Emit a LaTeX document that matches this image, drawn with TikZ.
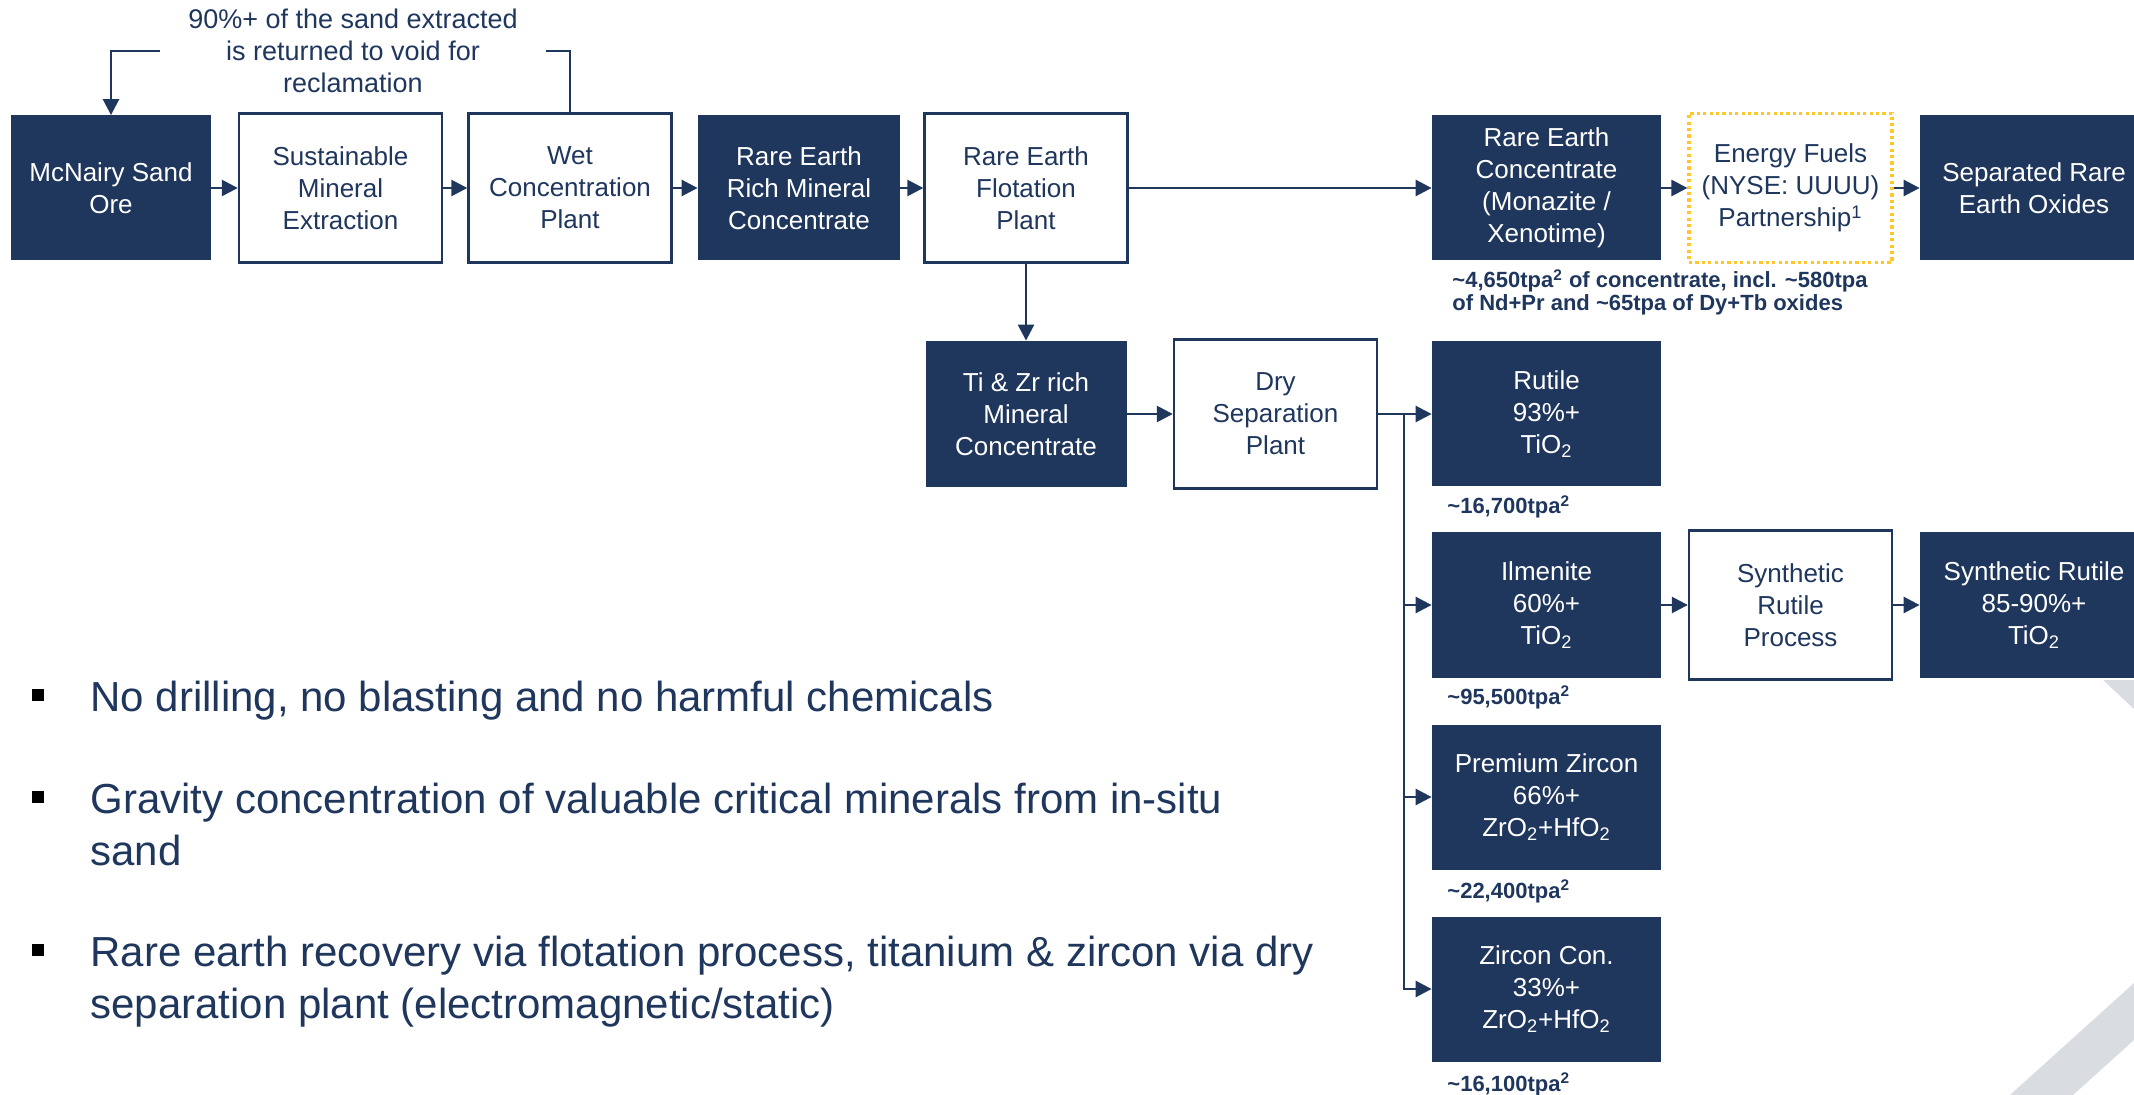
\documentclass[tikz,border=0pt]{standalone}
\usepackage{fontspec}
\setmainfont{Liberation Sans}
\usetikzlibrary{arrows.meta}
\definecolor{navy}{RGB}{31,54,93}
\definecolor{gold}{RGB}{255,199,44}
\definecolor{greyband}{RGB}{217,220,225}
\begin{document}
\begin{tikzpicture}[x=0.5pt,y=-0.5pt,
  base/.style={inner sep=0pt, align=center, font=\fontsize{13}{16}\selectfont},
  dark/.style={base, fill=navy, text=white, minimum height=72.5pt},
  light/.style={base, draw=navy, line width=1.2pt, fill=white, text=navy, minimum height=74.5pt, minimum width=101.5pt},
  dotbox/.style={base, draw=gold, line width=1.6pt, dash pattern=on 1.6pt off 1.6pt, fill=white, text=navy, minimum height=74.5pt, minimum width=101.5pt},
  arr/.style={draw=navy, line width=1.3pt, -{Triangle[length=8pt,width=8pt]}},
  ln/.style={draw=navy, line width=1.3pt},
  fn/.style={inner sep=0pt, anchor=base west, text=navy, font=\bfseries\fontsize{11}{11.5}\selectfont},
  bul/.style={fill=black, minimum size=6pt, inner sep=0pt},
  bt/.style={anchor=base west, inner sep=0pt, text=navy, font=\fontsize{21}{26}\selectfont},
]
\useasboundingbox (0,0) rectangle (2134,1095);
\clip (0,0) rectangle (2134,1095);

% background grey band
\fill[greyband] (2103,680) -- (2134,680) -- (2134,709) -- cycle;
\fill[greyband] (2010,1095) -- (2134,983) -- (2134,1040) -- (2073,1095) -- cycle;

% row 1
\node[dark, minimum width=100pt] (ore) at (111,188) {McNairy Sand\\Ore};
\node[light] (ext) at (340.5,188) {Sustainable\\Mineral\\Extraction};
\node[light] (wet) at (570,188) {Wet\\Concentration\\Plant};
\node[dark, minimum width=101pt] (rich) at (799,188) {Rare Earth\\Rich Mineral\\Concentrate};
\node[light] (flot) at (1026,188) {Rare Earth\\Flotation\\Plant};
\node[dark, minimum width=114.5pt] (rec) at (1546.5,188) {Rare Earth\\Concentrate\\(Monazite /\\Xenotime)};
\node[dotbox] (ef) at (1790.5,188) {Energy Fuels\\(NYSE: UUUU)\\Partnership\textsuperscript{1}};
\node[dark, minimum width=114pt] (sep) at (2034,188) {Separated Rare\\Earth Oxides};

% feedback note
\node[inner xsep=14pt, inner ysep=0pt, align=center, text=navy, font=\fontsize{13.5}{16}\selectfont] (note) at (353,51) {90\%+ of the sand extracted\\is returned to void for\\reclamation};

% row 2 and below
\node[dark, minimum width=100.5pt, minimum height=73pt] (tiz) at (1026,414) {Ti \& Zr rich\\Mineral\\Concentrate};
\node[light] (dry) at (1275.5,414) {Dry\\Separation\\Plant};
\node[dark, minimum width=114.5pt] (rut) at (1546.5,414) {Rutile\\93\%+\\TiO\textsubscript{2}};
\node[dark, minimum width=114.5pt] (ilm) at (1546.5,605) {Ilmenite\\60\%+\\TiO\textsubscript{2}};
\node[light] (srp) at (1790.5,605) {Synthetic\\Rutile\\Process};
\node[dark, minimum width=114pt] (sr) at (2034,605) {Synthetic Rutile\\85-90\%+\\TiO\textsubscript{2}};
\node[dark, minimum width=114.5pt] (prem) at (1546.5,797) {Premium Zircon\\66\%+\\ZrO\textsubscript{2}+HfO\textsubscript{2}};
\node[dark, minimum width=114.5pt] (zc) at (1546.5,989) {Zircon Con.\\33\%+\\ZrO\textsubscript{2}+HfO\textsubscript{2}};

% footnotes
\node[fn] (renote) at (1452,288) {\begin{tabular}[t]{@{}l@{}}\textasciitilde4,650tpa\textsuperscript{2} of concentrate, incl. \textasciitilde580tpa\\of Nd+Pr and \textasciitilde65tpa of Dy+Tb oxides\end{tabular}};
\node[fn] (f1) at (1447,514) {\textasciitilde16,700tpa\textsuperscript{2}};
\node[fn] (f2) at (1447,704) {\textasciitilde95,500tpa\textsuperscript{2}};
\node[fn] (f3) at (1447,898) {\textasciitilde22,400tpa\textsuperscript{2}};
\node[fn] (f4) at (1447,1091) {\textasciitilde16,100tpa\textsuperscript{2}};

% connectors
\draw[ln] (wet.north) |- (note.east);
\draw[arr] (note.west) -| (ore.north);
\draw[arr] (ore) -- (ext);
\draw[arr] (ext) -- (wet);
\draw[arr] (wet) -- (rich);
\draw[arr] (rich) -- (flot);
\draw[arr] (flot) -- (rec);
\draw[arr] (rec) -- (ef);
\draw[arr] (ef) -- (sep);
\draw[arr] (flot) -- (tiz);
\draw[arr] (tiz) -- (dry);
\draw[arr] (dry) -- (rut);
\coordinate (br) at (1404,414);
\draw[arr] (br) |- (zc);
\draw[arr] (br |- ilm) -- (ilm);
\draw[arr] (br |- prem) -- (prem);
\draw[arr] (ilm) -- (srp);
\draw[arr] (srp) -- (sr);

% bullets
\node[bul] (b1) at (38,694.5) {};
\node[bul] (b2) at (38,796.5) {};
\node[bul] (b3) at (38,949.5) {};
\node[bt] (t1) at (90,711) {No drilling, no blasting and no harmful chemicals};
\node[bt] (t2) at (90,813) {\begin{tabular}[t]{@{}l@{}}Gravity concentration of valuable critical minerals from in-situ\\sand\end{tabular}};
\node[bt] (t3) at (90,966) {\begin{tabular}[t]{@{}l@{}}Rare earth recovery via flotation process, titanium \& zircon via dry\\separation plant (electromagnetic/static)\end{tabular}};
\end{tikzpicture}
\end{document}
